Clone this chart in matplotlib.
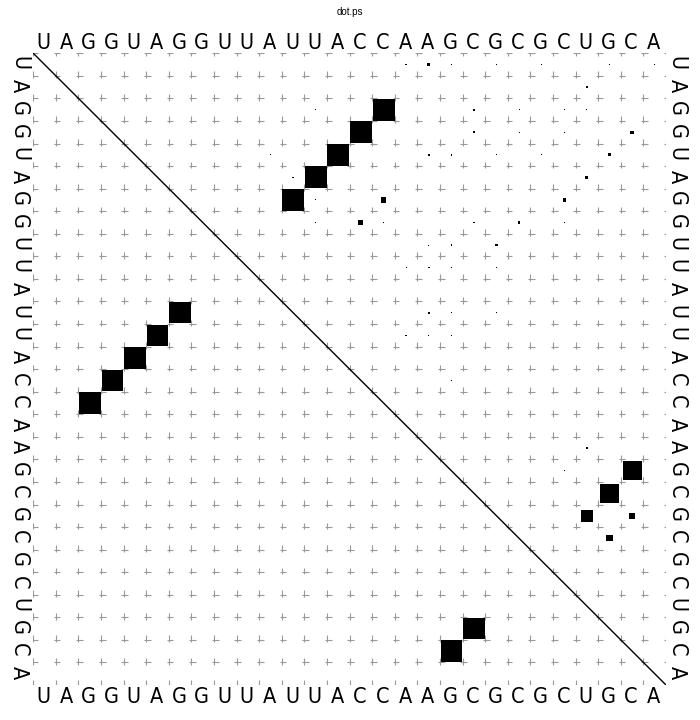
import matplotlib
matplotlib.use('Agg')
import matplotlib.pyplot as plt
from matplotlib.patches import Rectangle
from matplotlib.collections import LineCollection
from matplotlib import font_manager

sequence = 'UAGGUAGGUUAUUACCAAGCGCGCUGCA'
n = len(sequence)

# upper right: pair probabilities (box side = sqrt(p))
ubox_i = [3, 4, 5, 6, 7, 19, 20, 21, 21, 22, 7, 8,
          1, 1, 1, 1, 1, 1, 1,
          2, 2,
          3, 3, 3, 3, 3, 3, 3, 3,
          4, 4, 4, 4, 4,
          5, 5, 5, 5, 5, 5, 5,
          6, 6,
          7, 7, 7, 7, 7, 7,
          8, 8, 8, 8, 8, 8,
          9, 9, 9, 9,
          10, 10, 10, 10,
          12, 12, 12, 12,
          13, 13, 13,
          15, 17, 18, 19, 23]
ubox_j = [16, 15, 14, 13, 12, 27, 26, 25, 27, 26, 16, 15,
          17, 18, 19, 21, 23, 26, 28,
          13, 25,
          12, 13, 15, 20, 22, 24, 25, 27,
          12, 20, 22, 24, 27,
          11, 17, 18, 19, 21, 23, 26,
          12, 25,
          13, 15, 20, 22, 24, 25,
          12, 13, 16, 20, 22, 24,
          18, 19, 21, 23,
          17, 18, 19, 21,
          17, 18, 19, 21,
          17, 18, 19,
          19, 25, 25, 24, 27]
ubox_p = [0.97, 0.97, 0.97, 0.97, 0.96, 0.85, 0.85, 0.53, 0.27, 0.27, 0.25, 0.22,
          0.07, 0.12, 0.04, 0.03, 0.03, 0.06, 0.03,
          0.03, 0.07,
          0.03, 0.03, 0.03, 0.09, 0.04, 0.05, 0.05, 0.03,
          0.03, 0.07, 0.04, 0.05, 0.15,
          0.03, 0.03, 0.10, 0.07, 0.04, 0.04, 0.13,
          0.06, 0.13,
          0.04, 0.03, 0.03, 0.03, 0.14, 0.03,
          0.03, 0.03, 0.04, 0.07, 0.10, 0.04,
          0.04, 0.07, 0.10, 0.03,
          0.04, 0.07, 0.04, 0.03,
          0.03, 0.07, 0.04, 0.03,
          0.07, 0.04, 0.04,
          0.03, 0.02, 0.07, 0.07, 0.03]

# lower left: mfe structure
lbox_i = [3, 4, 5, 6, 7, 19, 20]
lbox_j = [16, 15, 14, 13, 12, 27, 26]
lbox_size = 0.95

# a narrow sans if one is around, otherwise plain Liberation Sans
narrow = [f.fname for f in font_manager.fontManager.ttflist
          if f.stretch in ('condensed', 'semi-condensed', 'extra-condensed')
          and f.style == 'normal' and f.weight in (400, 'normal')
          and ('Sans' in f.name or 'Roboto' in f.name)]
if narrow:
    seqfont = font_manager.FontProperties(fname=sorted(narrow)[0], size=15.5)
else:
    seqfont = font_manager.FontProperties(family=['Liberation Sans', 'DejaVu Sans'], size=15.5)

fig = plt.figure(figsize=(7, 7.2), dpi=100)
ax = fig.add_axes([33.3 / 700, 35 / 720, 632.7 / 700, 631.7 / 720])
ax.set_xlim(0.5, n + 0.5)
ax.set_ylim(0.5, n + 0.5)
ax.axis('off')

# dashed grid -> little crosses
segs = []
for m in range(n + 1):
    p = m + 0.5
    for k in range(n + 1):
        lo = max(k + 0.4, 0.5)
        hi = min(k + 0.7, n + 0.5)
        segs.append([(p, lo), (p, hi)])
        segs.append([(lo, p), (hi, p)])
ax.add_collection(LineCollection(segs, colors='0.6', linewidths=0.8, zorder=1))

# diagonal
ax.plot([0.5, n + 0.5], [n + 0.5, 0.5], color='black', lw=1.0, zorder=3)


def box(x, y, s):
    ax.add_patch(Rectangle((x - s / 2, y - s / 2), s, s, facecolor='black',
                           edgecolor='none', zorder=2))


for i, j, s in zip(ubox_i, ubox_j, ubox_p):
    box(j, n + 1 - i, s)
for i, j in zip(lbox_i, lbox_j):
    box(i, n + 1 - j, lbox_size)

for k, ch in enumerate(sequence):
    c = k + 1
    ax.text(c - 0.05, n + 0.7, ch, ha='center', va='baseline',
            fontproperties=seqfont, clip_on=False)
    ax.text(c - 0.05, -0.3, ch, ha='center', va='baseline',
            fontproperties=seqfont, clip_on=False)
    ax.text(-0.4, n + 1 - c + 0.05, ch, ha='center', va='baseline',
            fontproperties=seqfont, rotation=-90, rotation_mode='anchor', clip_on=False)
    ax.text(n + 0.7, n + 1 - c + 0.05, ch, ha='center', va='baseline',
            fontproperties=seqfont, rotation=-90, rotation_mode='anchor', clip_on=False)

fig.text(0.5, 1 - 12 / 720, 'dot.ps', ha='center', va='center', fontsize=7,
         family=['Liberation Sans', 'DejaVu Sans'])

fig.savefig('out.png', dpi=100)
